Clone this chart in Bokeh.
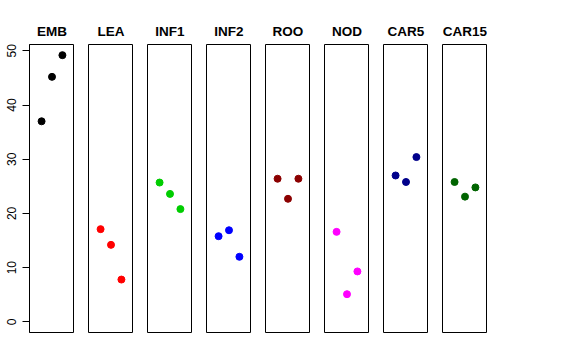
from bokeh.plotting import figure
from bokeh.layouts import row
from bokeh.models import Range1d, FixedTicker, ColumnDataSource
from bokeh.embed import file_html
from bokeh.resources import INLINE

groups = ["EMB", "LEA", "INF1", "INF2", "ROO", "NOD", "CAR5", "CAR15"]
colors = ["#000000", "#FF0000", "#00CD00", "#0000FF", "#8B0000", "#FF00FF", "#00008B", "#006400"]
replicate = [1, 2, 3]
emb = [37.0, 45.2, 49.2]
lea = [17.1, 14.2, 7.8]
inf1 = [25.7, 23.6, 20.8]
inf2 = [15.8, 16.9, 12.0]
roo = [26.4, 22.7, 26.4]
nod = [16.6, 5.1, 9.3]
car5 = [27.0, 25.8, 30.4]
car15 = [25.8, 23.1, 24.8]
series = [emb, lea, inf1, inf2, roo, nod, car5, car15]
y_ticks = [0, 10, 20, 30, 40, 50]

ymax = max(max(s) for s in series)
ymin = 0.0
pad = 0.04 * (ymax - ymin)
xlo, xhi = 0, 4
xpad = 0.04 * (xhi - xlo)

FONT = "Liberation Sans"
figs = []
for i, (g, c, s) in enumerate(zip(groups, colors, series)):
    first = i == 0
    p = figure(
        frame_width=45, frame_height=288,
        x_range=Range1d(xlo - xpad, xhi + xpad),
        y_range=Range1d(ymin - pad, ymax + pad),
        output_backend="svg", toolbar_location=None,
        x_axis_location=None,
        y_axis_location="left" if first else None,
        min_border_left=29 if first else 14,
        min_border_right=0, min_border_top=44, min_border_bottom=5,
        title=g,
    )
    p.title.align = "center"
    p.title.standoff = 12
    p.title.text_font = FONT
    p.title.text_font_style = "bold"
    p.title.text_font_size = "13.5px"
    p.title.text_color = "black"
    p.xgrid.visible = False
    p.ygrid.visible = False
    p.outline_line_color = "black"
    p.outline_line_width = 1
    p.outline_line_alpha = 1.0
    p.background_fill_color = "white"
    p.border_fill_color = "white"
    if first:
        ax = p.yaxis[0]
        ax.ticker = FixedTicker(ticks=y_ticks)
        ax.minor_tick_line_color = None
        ax.major_tick_out = 7
        ax.major_tick_in = 0
        ax.major_label_standoff = 6
        ax.major_label_orientation = "vertical"
        ax.major_label_text_font = FONT
        ax.major_label_text_font_size = "12px"
        ax.major_label_text_color = "black"
        ax.axis_line_color = "black"
        ax.major_tick_line_color = "black"
    src = ColumnDataSource(dict(x=replicate, y=s))
    p.scatter("x", "y", source=src, size=7, color=c, marker="circle")
    figs.append(p)

layout = row(figs, spacing=0)
open("out.html", "w").write(file_html(layout, INLINE))
